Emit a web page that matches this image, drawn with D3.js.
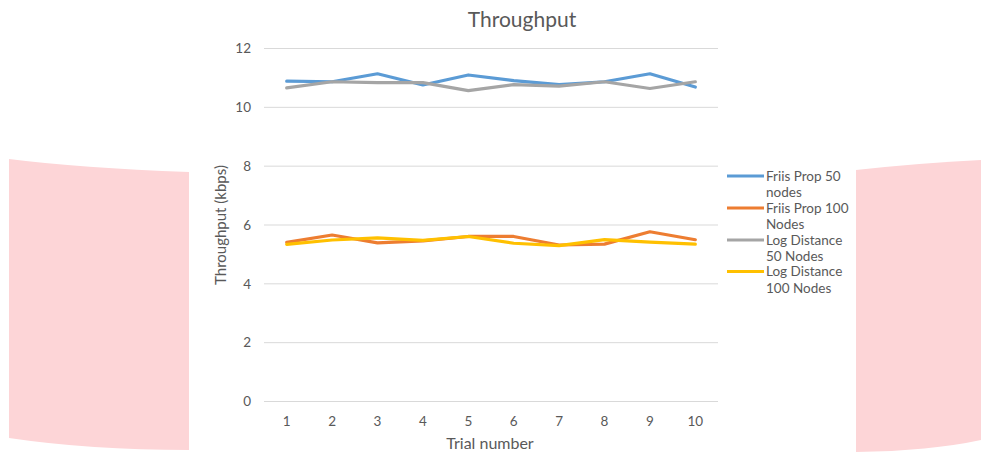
<!DOCTYPE html>
<html><head><meta charset="utf-8">
<script src="https://cdn.jsdelivr.net/npm/d3@7"></script>
<style>body{margin:0;background:#fff}svg{display:block}</style>
</head><body>
<svg id="c" width="981" height="455"></svg>
<script>
const trials = [1,2,3,4,5,6,7,8,9,10];
const yTicks = [0,2,4,6,8,10,12];
const seriesNames = ["Friis Prop 50 nodes","Friis Prop 100 Nodes","Log Distance 50 Nodes","Log Distance 100 Nodes"];
const legendLines = [["Friis Prop 50","nodes"],["Friis Prop 100","Nodes"],["Log Distance","50 Nodes"],["Log Distance","100 Nodes"]];
const friis50 = [10.89,10.87,11.14,10.76,11.10,10.91,10.77,10.87,11.14,10.69];
const friis100 = [5.41,5.66,5.39,5.46,5.61,5.61,5.32,5.35,5.77,5.50];
const log50 = [10.66,10.87,10.84,10.84,10.57,10.77,10.72,10.87,10.64,10.87];
const log100 = [5.34,5.49,5.56,5.48,5.61,5.38,5.30,5.50,5.42,5.35];
const colors = ["#5b9bd5","#ed7d31","#a5a5a5","#ffc000"];
const seriesData = [friis50, friis100, log50, log100];

const svg = d3.select("#c");
const font = "Lato, 'Open Sans', sans-serif";

// decorative pink panels
svg.append("path").attr("fill","#fdd5d7")
  .attr("d","M9,159 Q80,168 189,172 L189,450 Q90,450 9,438 Z");
svg.append("path").attr("fill","#fdd5d7")
  .attr("d","M856,170 Q920,163 981,160 L981,440 Q930,451 856,452 Z");

const x = d3.scaleBand().domain(trials).range([264,718]);
const y = d3.scaleLinear().domain([0,12]).range([401.5,48.5]);

// gridlines
svg.append("g").selectAll("line").data(yTicks).join("line")
  .attr("x1",264).attr("x2",718)
  .attr("y1",d=>y(d)).attr("y2",d=>y(d))
  .attr("stroke","#d9d9d9").attr("stroke-width",1);

// y axis labels
const yAxis = svg.append("g").attr("transform","translate(251,0)")
  .call(d3.axisLeft(y).tickValues(yTicks).tickSize(0).tickPadding(0));
yAxis.select(".domain").remove();
yAxis.selectAll("text").attr("fill","#595959").style("font-family",font).style("font-size","13.5px");

// x axis labels
const xAxis = svg.append("g").attr("transform","translate(0,414)")
  .call(d3.axisBottom(x).tickSize(0).tickPadding(2));
xAxis.select(".domain").remove();
xAxis.selectAll("text").attr("fill","#595959").style("font-family",font).style("font-size","13.5px");

// lines
const line = d3.line().x((d,i)=>x(trials[i])+x.bandwidth()/2).y(d=>y(d));
seriesData.forEach((s,k)=>{
  svg.append("path").datum(s).attr("d",line)
    .attr("fill","none").attr("stroke",colors[k]).attr("stroke-width",3.2)
    .attr("stroke-linejoin","round").attr("stroke-linecap","round");
});

// title
svg.append("text").attr("x",522).attr("y",27).attr("text-anchor","middle")
  .attr("fill","#595959").style("font-family",font).style("font-size","21px").text("Throughput");
// axis titles
svg.append("text").attr("x",490).attr("y",449).attr("text-anchor","middle")
  .attr("fill","#595959").style("font-family",font).style("font-size","16px").text("Trial number");
svg.append("text").attr("transform","translate(226,225) rotate(-90)").attr("text-anchor","middle")
  .attr("fill","#595959").style("font-family",font).style("font-size","15px").text("Throughput (kbps)");

// legend
const lg = svg.append("g");
const legY = [176,208,240,271.5];
legendLines.forEach((ls,k)=>{
  lg.append("line").attr("x1",727).attr("x2",764).attr("y1",legY[k]).attr("y2",legY[k])
    .attr("stroke",colors[k]).attr("stroke-width",3.2);
  const t = lg.append("text").attr("x",766).attr("y",legY[k]+4.5)
    .attr("fill","#595959").style("font-family",font).style("font-size","13.5px");
  ls.forEach((s,j)=>t.append("tspan").attr("x",766).attr("dy",j?16.5:0).text(s));
});
</script>
</body></html>
